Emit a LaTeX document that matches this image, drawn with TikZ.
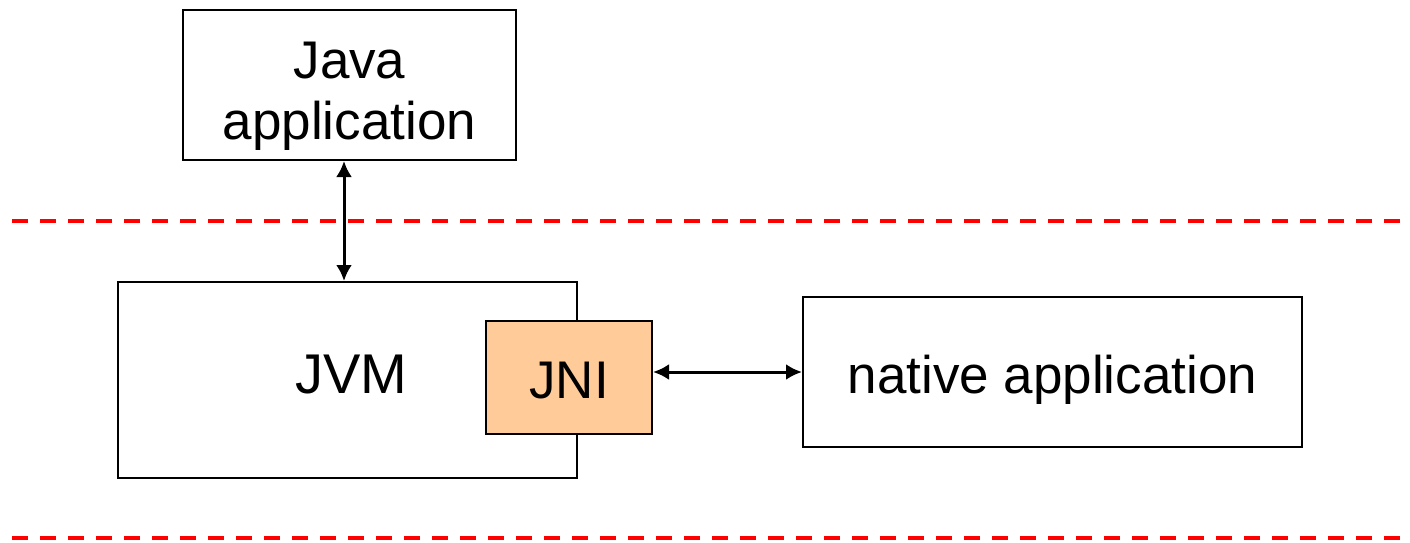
\documentclass[tikz,border=0pt]{standalone}
\usepackage{fontspec}
\setmainfont{Liberation Sans}
\usetikzlibrary{arrows.meta}
\definecolor{jnifill}{HTML}{FFCC99}
\begin{document}
\begin{tikzpicture}[x=1pt,y=-1pt,
  box/.style={draw=black,line width=2pt,fill=white,inner sep=0pt},
  txt/.style={font=\fontsize{53}{61}\selectfont,inner sep=0pt,align=center,anchor=base},
  sep/.style={draw=red,line width=4pt,dash pattern=on 16pt off 12pt},
  link/.style={line width=3pt,{Latex[length=16pt,width=16pt]}-{Latex[length=16pt,width=16pt]}}]
\useasboundingbox (0,0) rectangle (1410,543);

% layer separators
\coordinate (s1a) at (12,221);
\coordinate (s1b) at (1410,221);
\coordinate (s2a) at (12,538);
\coordinate (s2b) at (1410,538);
\draw[sep] (s1a) -- (s1b);
\draw[sep] (s2a) -- (s2b);

% boxes
\node[box,minimum width=333pt,minimum height=150pt] (java) at (349.5,85) {};
\node[txt] (javalbl) at (349.5,139) {Java\\application};

\node[box,minimum width=459pt,minimum height=196pt] (jvm) at (347.5,380) {};
\node[txt,font=\fontsize{56}{61}\selectfont] (jvmlbl) at (351.5,393) {JVM};

\node[box,fill=jnifill,minimum width=166pt,minimum height=113pt] (jni) at (569,377.5) {};
\node[txt] (jnilbl) at (569,398) {JNI};

\node[box,minimum width=499pt,minimum height=150pt] (native) at (1052.5,372) {};
\node[txt] (nativelbl) at (1052.5,393) {native application};

% connectors
\draw[link] (java.south -| 344,0) -- (jvm.north -| 344,0);
\draw[link] (jni.east |- 0,372) -- (native.west |- 0,372);
\end{tikzpicture}
\end{document}
